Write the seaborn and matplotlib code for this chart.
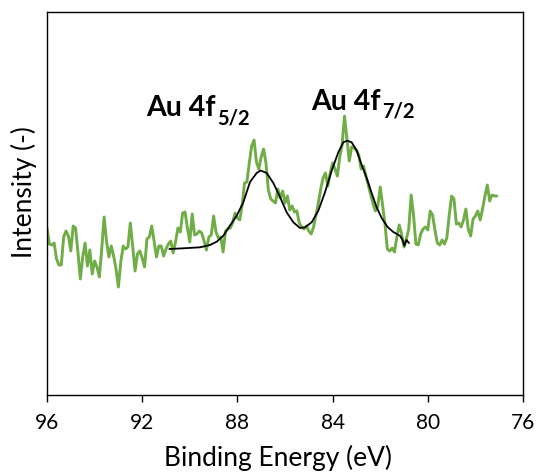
import matplotlib
matplotlib.use("Agg")
import matplotlib.pyplot as plt
import pandas as pd
import seaborn as sns

# Au 4f XPS spectrum (measured counts, arbitrary units)
binding_energy = [
    96.0, 95.9, 95.8, 95.7, 95.6, 95.5, 95.4, 95.3, 95.2, 95.1,
    95.0, 94.9, 94.8, 94.7, 94.6, 94.5, 94.4, 94.3, 94.2, 94.1,
    94.0, 93.9, 93.8, 93.7, 93.6, 93.5, 93.4, 93.3, 93.2, 93.1,
    93.0, 92.9, 92.8, 92.7, 92.6, 92.5, 92.4, 92.3, 92.2, 92.1,
    92.0, 91.9, 91.8, 91.7, 91.6, 91.5, 91.4, 91.3, 91.2, 91.1,
    91.0, 90.9, 90.8, 90.7, 90.6, 90.5, 90.4, 90.3, 90.2, 90.1,
    90.0, 89.9, 89.8, 89.7, 89.6, 89.5, 89.4, 89.3, 89.2, 89.1,
    89.0, 88.9, 88.8, 88.7, 88.6, 88.5, 88.4, 88.3, 88.2, 88.1,
    88.0, 87.9, 87.8, 87.7, 87.6, 87.5, 87.4, 87.3, 87.2, 87.1,
    87.0, 86.9, 86.8, 86.7, 86.6, 86.5, 86.4, 86.3, 86.2, 86.1,
    86.0, 85.9, 85.8, 85.7, 85.6, 85.5, 85.4, 85.3, 85.2, 85.1,
    85.0, 84.9, 84.8, 84.7, 84.6, 84.5, 84.4, 84.3, 84.2, 84.1,
    84.0, 83.9, 83.8, 83.7, 83.6, 83.5, 83.4, 83.3, 83.2, 83.1,
    83.0, 82.9, 82.8, 82.7, 82.6, 82.5, 82.4, 82.3, 82.2, 82.1,
    82.0, 81.9, 81.8, 81.7, 81.6, 81.5, 81.4, 81.3, 81.2, 81.1,
    81.0, 80.9, 80.8, 80.7, 80.6, 80.5, 80.4, 80.3, 80.2, 80.1,
    80.0, 79.9, 79.8, 79.7, 79.6, 79.5, 79.4, 79.3, 79.2, 79.1,
    79.0, 78.9, 78.8, 78.7, 78.6, 78.5, 78.4, 78.3, 78.2, 78.1,
    78.0, 77.9, 77.8, 77.7, 77.6, 77.5, 77.4, 77.3, 77.2, 77.1,
]
intensity = [
    167, 151, 150, 152, 136, 130, 130, 158, 164, 159,
    144, 169, 167, 143, 116, 138, 152, 129, 145, 121,
    134, 128, 118, 146, 178, 154, 138, 149, 139, 126,
    108, 133, 149, 146, 148, 172, 149, 124, 141, 144,
    137, 128, 156, 158, 169, 154, 138, 149, 149, 139,
    146, 151, 154, 142, 153, 167, 163, 182, 183, 167,
    153, 181, 160, 161, 164, 162, 154, 145, 158, 160,
    179, 163, 157, 158, 143, 164, 166, 167, 172, 182,
    177, 175, 190, 212, 213, 232, 249, 255, 233, 226,
    238, 246, 232, 205, 196, 194, 192, 206, 197, 204,
    192, 199, 185, 189, 183, 184, 172, 168, 166, 169,
    164, 161, 168, 180, 192, 206, 217, 222, 209, 222,
    232, 226, 219, 238, 250, 279, 256, 234, 248, 247,
    245, 240, 226, 229, 219, 210, 200, 191, 184, 189,
    208, 190, 171, 146, 144, 147, 143, 158, 170, 161,
    148, 156, 166, 200, 180, 151, 150, 161, 166, 168,
    165, 184, 180, 165, 152, 150, 155, 151, 157, 180,
    199, 196, 171, 172, 168, 175, 186, 166, 159, 176,
    179, 184, 175, 186, 199, 210, 194, 200, 199, 199,
]

# Fitted envelope of the doublet
fit_energy = [
    90.86, 90.27, 89.57, 89.15, 88.87, 88.59, 88.31, 88.03, 87.75, 87.47,
    87.19, 87.03, 86.77, 86.49, 86.21, 85.93, 85.65, 85.37, 85.16, 84.88,
    84.60, 84.32, 84.04, 83.76, 83.55, 83.38, 83.20, 82.99, 82.78, 82.57,
    82.36, 82.15, 81.94, 81.69, 81.45, 81.17, 81.07, 80.98, 80.90, 80.79,
]
fit_intensity = [
    146.0, 146.7, 147.7, 150.0, 153.3, 159.3, 169.5, 179.3, 192.7, 213.0,
    222.0, 224.5, 222.0, 212.0, 198.0, 182.7, 172.7, 167.0, 167.7, 172.7,
    184.3, 202.7, 224.3, 242.7, 252.7, 254.3, 252.7, 244.5, 230.2, 217.0,
    202.0, 187.7, 177.0, 168.0, 163.0, 159.2, 155.5, 149.3, 155.0, 152.0,
]

x_ticks = [96, 92, 88, 84, 80, 76]

# Peak labels: main text plus subscript, each anchored at its baseline
peak_names = ["Au 4f", "Au 4f"]
peak_subscripts = ["5/2", "7/2"]
name_energy = [91.84, 84.92]
name_intensity = [279.5, 285.5]
sub_energy = [88.86, 81.94]
sub_intensity = [271.5, 278.0]

sns.set_theme(style="white")
plt.rcParams["font.family"] = ["Lato", "DejaVu Sans"]

W, H = 536, 477
fig = plt.figure(figsize=(W / 100, H / 100), dpi=100)
ax = fig.add_axes([47 / W, 1 - 396 / H, 476 / W, 383 / H])

spectrum = pd.DataFrame({"energy": binding_energy, "intensity": intensity})
envelope = pd.DataFrame({"energy": fit_energy, "intensity": fit_intensity})

sns.lineplot(data=spectrum, x="energy", y="intensity", color="#70AD47",
             linewidth=2.1, estimator=None, sort=False, ax=ax)
sns.lineplot(data=envelope, x="energy", y="intensity", color="black",
             linewidth=1.3, estimator=None, sort=False, ax=ax)

for name, ne, ni, sub, se, si in zip(peak_names, name_energy, name_intensity,
                                     peak_subscripts, sub_energy, sub_intensity):
    ax.text(ne, ni, name, fontsize=20.5, fontweight="bold", ha="left",
            va="baseline", color="black")
    ax.text(se, si, sub, fontsize=14.5, fontweight="bold", ha="left",
            va="baseline", color="black")

ax.set_xlim(96, 76)
ax.set_ylim(0, 383)
ax.set_xticks(x_ticks)
ax.set_xticklabels([str(t) for t in x_ticks])
ax.set_yticks([])
ax.tick_params(axis="x", bottom=True, direction="out", length=5, width=1.0,
               color="black", labelcolor="black", labelsize=15, pad=7)
for side in ["left", "right", "top", "bottom"]:
    ax.spines[side].set_visible(True)
    ax.spines[side].set_color("black")
    ax.spines[side].set_linewidth(1.0)

ax.set_xlabel("Binding Energy (eV)", fontsize=19, color="black")
ax.xaxis.set_label_coords(0.485, -0.128)
ax.set_ylabel("Intensity (-)", fontsize=19, color="black")
ax.yaxis.set_label_coords(-0.02, 0.533)

fig.savefig("out.png", dpi=100, facecolor="white")
